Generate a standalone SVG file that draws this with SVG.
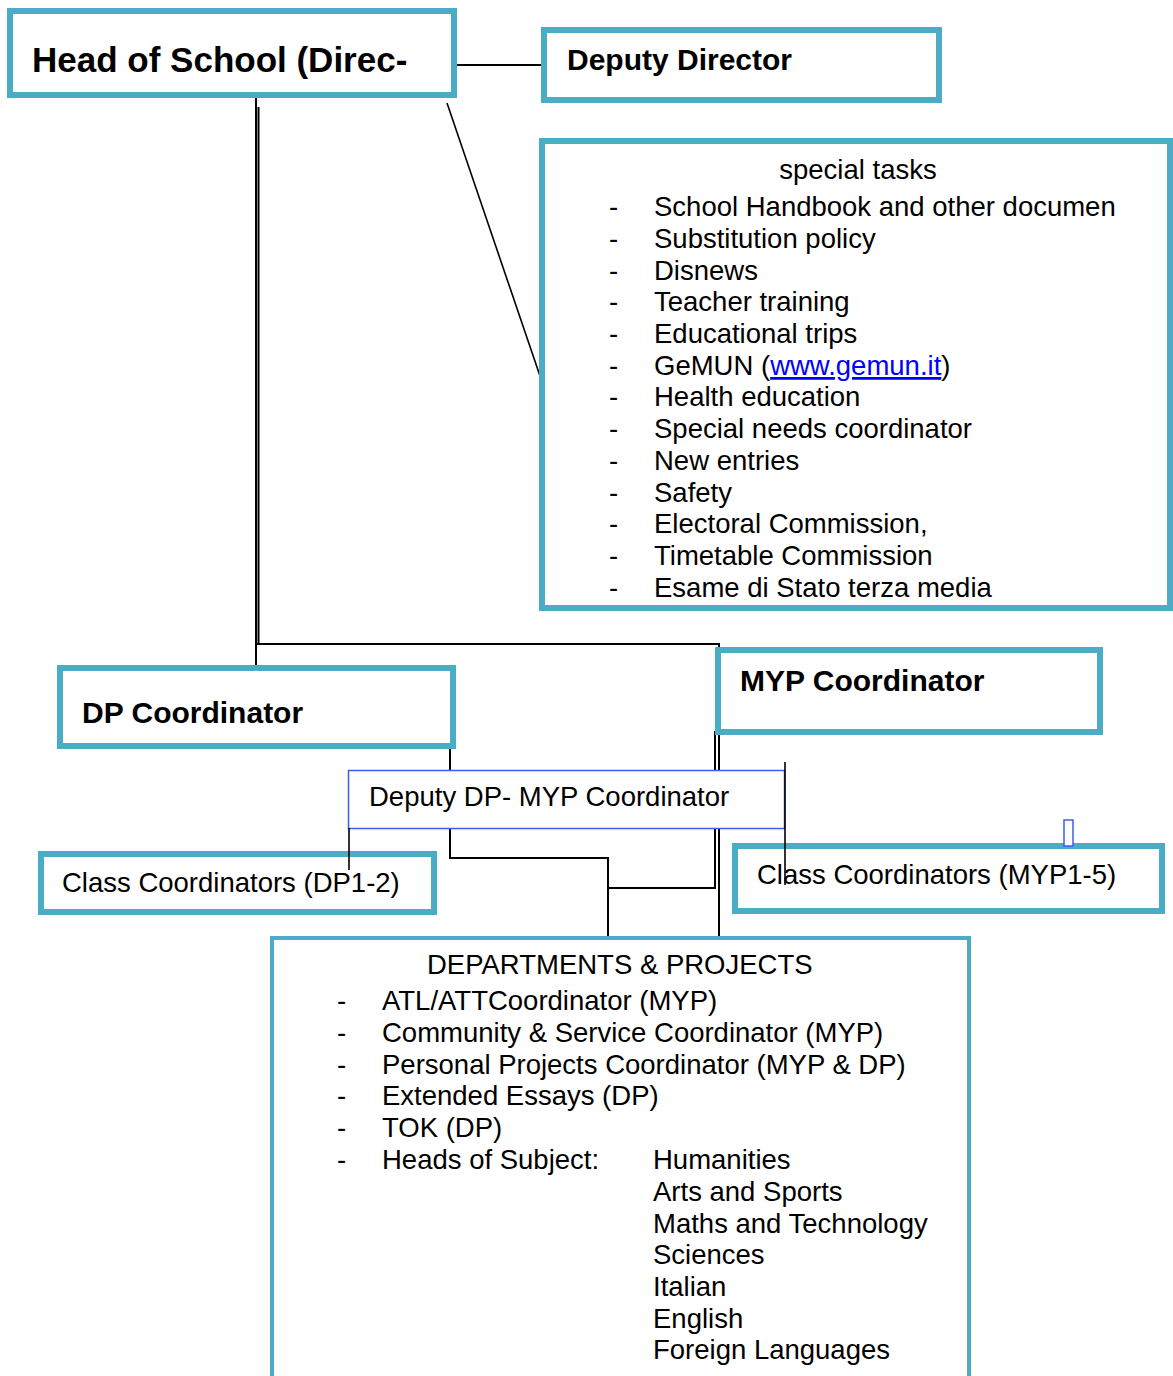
<svg xmlns="http://www.w3.org/2000/svg" width="1173" height="1376" viewBox="0 0 1173 1376">
<style>
.box{fill:#fff;stroke:#4BACC6;stroke-width:6}
.thin{fill:#fff;stroke:#3D5CF5;stroke-width:1.5}
.t{font-family:"Liberation Sans",Arial,sans-serif;font-size:27.5px;fill:#000}
.b{font-family:"Liberation Sans",Arial,sans-serif;font-weight:bold;fill:#000}
.ln{stroke:#000;stroke-width:2;fill:none}
.link{fill:#0000FF;text-decoration:underline}
</style>
<rect width="1173" height="1376" fill="#fff"/>
<g id="connectors">
<line class="ln" x1="457" y1="65" x2="541" y2="65"/>
<line class="ln" x1="447" y1="103" x2="540" y2="376" style="stroke-width:1.6"/>
<line class="ln" x1="256" y1="98" x2="256" y2="665"/>
<line class="ln" x1="258.5" y1="107" x2="258.5" y2="644"/>
<polyline class="ln" points="257,644 719,644 719,937"/>
<polyline class="ln" points="715,731 715,888 608,888"/>
<polyline class="ln" points="450,730 450,858 608,858 608,937"/>
</g>
<g id="head">
<rect class="box" x="10" y="11" width="444" height="84"/>
<text class="b" x="32" y="72" font-size="35">Head of School (Direc-</text>
</g>
<g id="deputy-director">
<rect class="box" x="544" y="30" width="395" height="70"/>
<text class="b" x="567" y="70" font-size="30">Deputy Director</text>
</g>
<g id="special-tasks">
<rect class="box" x="542" y="141" width="628" height="467"/>
<text class="t" x="858" y="179" text-anchor="middle">special tasks</text>
<g class="t">
<text x="609" y="216">-</text><text x="654" y="216">School Handbook and other documen</text>
<text x="609" y="248">-</text><text x="654" y="248">Substitution policy</text>
<text x="609" y="280">-</text><text x="654" y="280">Disnews</text>
<text x="609" y="311">-</text><text x="654" y="311">Teacher training</text>
<text x="609" y="343">-</text><text x="654" y="343">Educational trips</text>
<text x="609" y="375">-</text><text x="654" y="375">GeMUN (<tspan class="link">www.gemun.it</tspan>)</text>
<text x="609" y="406">-</text><text x="654" y="406">Health education</text>
<text x="609" y="438">-</text><text x="654" y="438">Special needs coordinator</text>
<text x="609" y="470">-</text><text x="654" y="470">New entries</text>
<text x="609" y="502">-</text><text x="654" y="502">Safety</text>
<text x="609" y="533">-</text><text x="654" y="533">Electoral Commission,</text>
<text x="609" y="565">-</text><text x="654" y="565">Timetable Commission</text>
<text x="609" y="597">-</text><text x="654" y="597">Esame di Stato terza media</text>
</g>
</g>
<g id="dp-coordinator">
<rect class="box" x="60" y="668" width="393" height="78"/>
<text class="b" x="82" y="723" font-size="30">DP Coordinator</text>
</g>
<g id="myp-coordinator">
<rect class="box" x="718" y="650" width="382" height="82"/>
<text class="b" x="740" y="691" font-size="30">MYP Coordinator</text>
</g>
<g id="deputy-dp-myp">
<rect class="thin" x="348.5" y="770.5" width="436" height="58"/>
<text class="t" x="369" y="806">Deputy DP- MYP Coordinator</text>
</g>
<g id="class-dp">
<rect class="box" x="41" y="854" width="393" height="58"/>
<text class="t" x="62" y="892">Class Coordinators (DP1-2)</text>
</g>
<g id="class-myp">
<rect class="box" x="735" y="846" width="427" height="65"/>
<text class="t" x="757" y="884">Class Coordinators (MYP1-5)</text>
</g>
<g id="marker">
<rect class="thin" x="1064" y="820" width="9" height="26"/>
</g>
<g id="connectors-over">
<line class="ln" x1="349" y1="828" x2="349" y2="870" style="stroke-width:1.6"/>
<line class="ln" x1="785" y1="762" x2="785" y2="885" style="stroke-width:1.6"/>
</g>
<g id="departments">
<rect class="box" x="272" y="938" width="697" height="460" style="stroke-width:4"/>
<text class="t" x="427" y="974">DEPARTMENTS &amp; PROJECTS</text>
<g class="t">
<text x="337" y="1010">-</text><text x="382" y="1010">ATL/ATTCoordinator (MYP)</text>
<text x="337" y="1042">-</text><text x="382" y="1042">Community &amp; Service Coordinator (MYP)</text>
<text x="337" y="1074">-</text><text x="382" y="1074">Personal Projects Coordinator (MYP &amp; DP)</text>
<text x="337" y="1105">-</text><text x="382" y="1105">Extended Essays (DP)</text>
<text x="337" y="1137">-</text><text x="382" y="1137">TOK (DP)</text>
<text x="337" y="1169">-</text><text x="382" y="1169">Heads of Subject:</text>
<text x="653" y="1169">Humanities</text>
<text x="653" y="1201">Arts and Sports</text>
<text x="653" y="1233">Maths and Technology</text>
<text x="653" y="1264">Sciences</text>
<text x="653" y="1296">Italian</text>
<text x="653" y="1328">English</text>
<text x="653" y="1359">Foreign Languages</text>
</g>
</g>
</svg>
